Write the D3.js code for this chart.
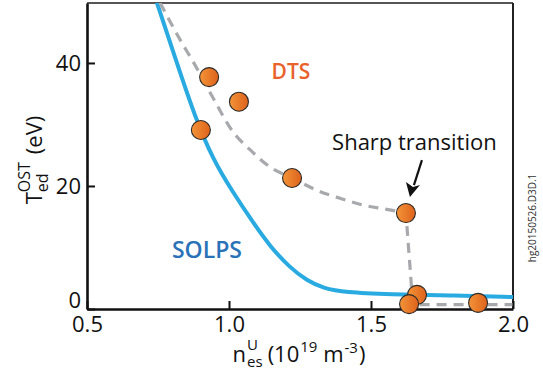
<!doctype html>
<html>
<head>
<meta charset="utf-8">
<script src="https://d3js.org/d3.v7.min.js"></script>
<style>
  body { margin: 0; background: #fff; }
  svg text { font-family: "Open Sans", sans-serif; }
</style>
</head>
<body>
<svg width="543" height="372"></svg>
<script>
// DTS measurements
const dtsN = [0.901, 0.930, 1.035, 1.222, 1.623, 1.662, 1.634, 1.877];
const dtsT = [29.1, 37.7, 33.7, 21.3, 15.6, 2.3, 0.8, 1.0];

// dashed guide through DTS points: smooth part, then the sharp drop
const trendN = [0.757, 0.835, 0.870, 0.944, 1.014, 1.074, 1.144, 1.222, 1.310, 1.391, 1.472, 1.556, 1.623];
const trendT = [49.8, 43.2, 40.5, 34.3, 28.8, 25.9, 23.1, 21.3, 19.3, 18.0, 16.9, 16.2, 15.6];
const dropN = [1.623, 1.646, 1.650, 2.0];
const dropT = [15.6, 1.5, 0.7, 0.7];

// SOLPS simulation
const solpsN = [0.746, 0.813, 0.880, 0.947, 1.011, 1.081, 1.144, 1.215, 1.275, 1.331, 1.408, 1.567, 1.778, 2.0];
const solpsT = [49.8, 40.5, 31.2, 24.0, 19.2, 14.3, 10.2, 6.7, 4.6, 3.4, 2.7, 2.4, 2.2, 1.95];

const xTicks = [0.5, 1.0, 1.5, 2.0];
const yTicks = [0, 20, 40];

const svg = d3.select("svg");
const x = d3.scaleLinear().domain([0.5, 2.0]).range([87, 513]);
const y = d3.scaleLinear().domain([0, 49.75]).range([309, 3]);

const defs = svg.append("defs");
defs.append("clipPath").attr("id", "clip")
  .append("rect").attr("x", 87).attr("y", 3).attr("width", 426).attr("height", 306);
const grad = defs.append("linearGradient").attr("id", "dot");
grad.append("stop").attr("offset", "0%").attr("stop-color", "#f39438");
grad.append("stop").attr("offset", "100%").attr("stop-color", "#de621c");

// frame top / right
svg.append("line").attr("x1", 87).attr("x2", 513).attr("y1", 3).attr("y2", 3)
  .attr("stroke", "#555").attr("stroke-width", 2);
svg.append("line").attr("x1", 513).attr("x2", 513).attr("y1", 3).attr("y2", 309)
  .attr("stroke", "#222").attr("stroke-width", 2);

const plot = svg.append("g").attr("clip-path", "url(#clip)");

const pairs = (a, b) => a.map((n, i) => [n, b[i]]);
const smooth = d3.line().x(d => x(d[0])).y(d => y(d[1])).curve(d3.curveMonotoneX);
const spline = d3.line().x(d => x(d[0])).y(d => y(d[1])).curve(d3.curveBasis);
const straight = d3.line().x(d => x(d[0])).y(d => y(d[1]));

plot.append("path")
  .datum(pairs(solpsN, solpsT))
  .attr("d", spline)
  .attr("fill", "none").attr("stroke", "#29aae1").attr("stroke-width", 4);

plot.append("path")
  .datum(pairs(trendN, trendT))
  .attr("d", smooth)
  .attr("fill", "none").attr("stroke", "#a7a9ac").attr("stroke-width", 3.2)
  .attr("stroke-dasharray", "10,7");
plot.append("path")
  .datum(pairs(dropN, dropT))
  .attr("d", straight)
  .attr("fill", "none").attr("stroke", "#a7a9ac").attr("stroke-width", 3.2)
  .attr("stroke-dasharray", "10,7").attr("stroke-dashoffset", 4);

// axes
const xAxis = svg.append("g").attr("transform", "translate(0,309)")
  .call(d3.axisBottom(x).tickValues(xTicks).tickFormat(d3.format(".1f"))
    .tickSizeInner(-8).tickSizeOuter(0).tickPadding(7));
const yAxis = svg.append("g").attr("transform", "translate(87,0)")
  .call(d3.axisLeft(y).tickValues(yTicks).tickFormat(d3.format("d"))
    .tickSizeInner(-8).tickSizeOuter(0).tickPadding(6));
[xAxis, yAxis].forEach(a => {
  a.select(".domain").attr("stroke", "#111").attr("stroke-width", 2.6);
  a.selectAll(".tick line").attr("stroke", "#111").attr("stroke-width", 2);
  a.selectAll(".tick text").attr("font-size", 22).attr("fill", "#111")
    .style("font-family", "'Open Sans', sans-serif");
});
yAxis.selectAll(".tick").filter(d => d === 0).select("text").attr("dy", "-0.08em");

// points
svg.append("g").selectAll("circle")
  .data(pairs(dtsN, dtsT))
  .join("circle")
  .attr("cx", d => x(d[0])).attr("cy", d => y(d[1])).attr("r", 9.5)
  .attr("fill", "url(#dot)").attr("stroke", "#2a2a2a").attr("stroke-width", 1.1);

// rich text helper: runs of text, some raised/lowered, some stacked
function rich(g, parts) {
  const inner = g.append("g");
  let cx = 0;
  parts.forEach(p => {
    if (p.stack) {
      const a = inner.append("text").attr("x", cx).attr("y", -p.up).attr("font-size", p.size).text(p.stack[0]);
      const b = inner.append("text").attr("x", cx).attr("y", p.down).attr("font-size", p.size).text(p.stack[1]);
      cx += Math.max(a.node().getComputedTextLength(), b.node().getComputedTextLength()) + (p.gap || 0);
    } else {
      const t = inner.append("text").attr("x", cx).attr("y", p.dy || 0).attr("font-size", p.size).text(p.text);
      cx += t.node().getComputedTextLength() + (p.gap || 0);
    }
  });
  inner.attr("transform", `translate(${-cx / 2},0)`);
  inner.selectAll("text").attr("fill", "#111");
}

rich(svg.append("g").attr("transform", "translate(299,362)"), [
  {text: "n", size: 22, gap: 1},
  {stack: ["U", "es"], size: 15, up: 12, down: 5, gap: 5},
  {text: "(10", size: 22, gap: 1},
  {text: "19", size: 15, dy: -10, gap: 0},
  {text: "\u00a0m", size: 22, gap: 1},
  {text: "-3", size: 15, dy: -9, gap: 1},
  {text: ")", size: 22}
]);

rich(svg.append("g").attr("transform", "translate(42,160) rotate(-90)"), [
  {text: "T", size: 22, gap: 0},
  {stack: ["OST", "ed"], size: 16, up: 12, down: 6, gap: 8},
  {text: "(eV)", size: 22}
]);

// labels
svg.append("text").attr("x", x(1.218)).attr("y", y(37.4)).attr("text-anchor", "middle")
  .attr("font-size", 21).attr("font-weight", 600).attr("fill", "#e8622a").text("DTS");
svg.append("text").attr("x", x(0.799)).attr("y", y(8.3))
  .attr("font-size", 23).attr("font-weight", 600).attr("fill", "#2a72b8").text("SOLPS");
svg.append("text").attr("x", x(1.363)).attr("y", y(25.85))
  .attr("font-size", 22).attr("fill", "#111").text("Sharp transition");

// arrow to the transition point
const tipX = x(1.623) + 4, tipY = y(15.6) - 16;
svg.append("line").attr("x1", tipX + 12).attr("y1", tipY - 37).attr("x2", tipX + 4).attr("y2", tipY - 12)
  .attr("stroke", "#111").attr("stroke-width", 2.2);
svg.append("path")
  .attr("d", `M${tipX},${tipY} L${tipX - 4},${tipY - 15} L${tipX + 3},${tipY - 10} L${tipX + 10},${tipY - 12} Z`)
  .attr("fill", "#111");

svg.append("text").attr("transform", "translate(536,218) rotate(-90)")
  .attr("text-anchor", "middle").attr("font-size", 10).attr("fill", "#333")
  .text("hg20150526.D3D.1");
</script>
</body>
</html>
